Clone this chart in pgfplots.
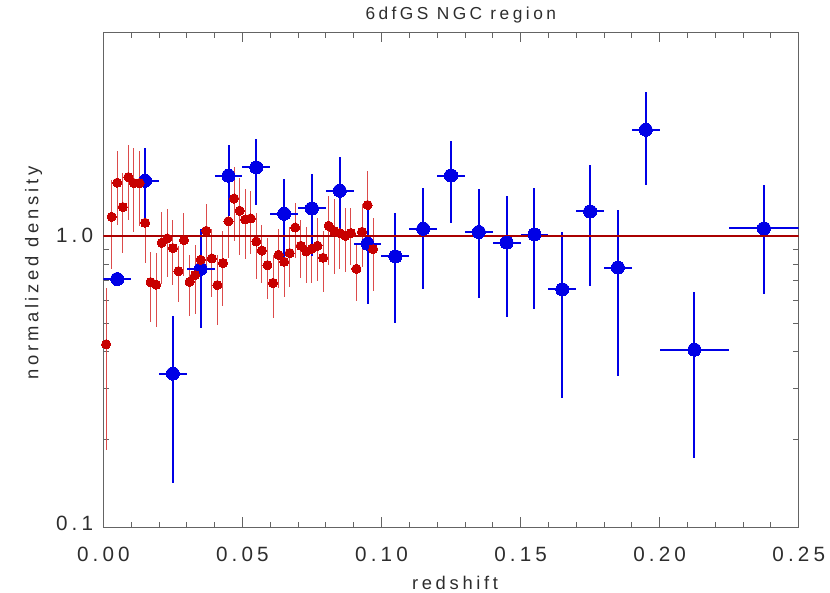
\documentclass[border=0pt]{standalone}
\usepackage{fontspec}
\setmainfont[LetterSpace=20]{Liberation Sans}
\usepackage{pgfplots}
\usepackage{pgfplotstable}
\pgfplotsset{compat=1.18}

\definecolor{ptblue}{RGB}{0,0,230}
\definecolor{ptred}{RGB}{200,0,0}
\definecolor{barred}{RGB}{220,75,75}
\definecolor{refline}{RGB}{170,0,0}
\definecolor{axgrey}{RGB}{100,100,100}
\definecolor{txtgrey}{RGB}{45,45,45}

% fine bins (red): x, density, error
\pgfplotstableread{
x y e
0.001 0.424 0.240
0.003 1.162 0.390
0.005 1.521 0.429
0.007 1.255 0.385
0.009 1.591 0.460
0.011 1.517 0.484
0.013 1.517 0.437
0.015 1.108 0.300
0.017 0.693 0.188
0.019 0.679 0.193
0.021 0.946 0.262
0.023 0.979 0.255
0.025 0.907 0.228
0.027 0.756 0.163
0.029 0.966 0.236
0.031 0.695 0.163
0.033 0.733 0.195
0.035 0.827 0.207
0.037 1.040 0.250
0.039 0.836 0.219
0.041 0.677 0.183
0.043 0.806 0.230
0.045 1.122 0.280
0.047 1.343 0.380
0.049 1.219 0.359
0.051 1.138 0.305
0.053 1.147 0.278
0.055 0.956 0.243
0.057 0.890 0.200
0.059 0.793 0.188
0.061 0.689 0.168
0.063 0.860 0.197
0.065 0.814 0.200
0.067 0.872 0.204
0.069 1.068 0.230
0.071 0.924 0.208
0.073 0.883 0.193
0.075 0.904 0.218
0.077 0.924 0.226
0.079 0.840 0.200
0.081 1.082 0.285
0.083 1.038 0.300
0.085 1.022 0.252
0.087 1.000 0.250
0.089 1.022 0.225
0.091 0.770 0.172
0.093 1.032 0.252
0.095 1.275 0.400
0.097 0.900 0.253
}\finetab

% coarse bins (blue): x, density, half width, error
\pgfplotstableread{
x y ex ey
0.005 0.710 0.005 0.030
0.015 1.545 0.005 0.460
0.025 0.336 0.005 0.194
0.035 0.770 0.005 0.289
0.045 1.608 0.005 0.436
0.055 1.717 0.005 0.440
0.065 1.190 0.005 0.375
0.075 1.241 0.005 0.392
0.085 1.428 0.005 0.436
0.095 0.939 0.005 0.355
0.105 0.849 0.005 0.348
0.115 1.057 0.005 0.400
0.125 1.611 0.005 0.507
0.135 1.030 0.005 0.418
0.145 0.948 0.005 0.423
0.155 1.010 0.005 0.449
0.165 0.654 0.005 0.377
0.175 1.212 0.005 0.540
0.185 0.778 0.005 0.447
0.195 2.313 0.005 0.815
0.2125 0.406 0.0125 0.233
0.2375 1.060 0.0125 0.431
}\coarsetab

\begin{document}
\begin{tikzpicture}
\begin{axis}[
  scale only axis, width=521.6pt, height=371pt,
  xmin=0, xmax=0.25, ymin=0.1, ymax=5, ymode=log,
  xtick={0,0.05,0.1,0.15,0.2,0.25},
  xticklabels={0.00,0.05,0.10,0.15,0.20,0.25},
  minor x tick num=4,
  ytick={0.1,1}, yticklabels={\raisebox{5.5pt}{0.1},1.0},
  tick align=inside, major tick length=7.5pt, minor tick length=4pt,
  axis line style={axgrey, line width=0.6pt},
  tick style={axgrey, line width=0.6pt},
  tick label style={font=\fontsize{15.5}{18}\selectfont, text=txtgrey, inner sep=0pt},
  xticklabel style={anchor=base, yshift=-26pt},
  yticklabel style={anchor=east, xshift=-7.5pt},
  xlabel={redshift}, ylabel={normalized\hspace{0.5em}density},
  label style={font=\fontsize{13.8}{16}\selectfont, text=txtgrey, inner sep=0pt},
  xlabel style={at={(axis description cs:0.5058,-0.1273)}, anchor=base},
  ylabel style={at={(axis description cs:-0.0935,0.5134)}, anchor=base},
  title={6dfGS NGC region},
  title style={font=\fontsize{13}{15}\selectfont, text=txtgrey, inner sep=0pt,
    at={(axis description cs:0.514,1.0105)}, anchor=base},
]
% fine bins with error bars
\addplot[only marks, mark=*, mark size=3.4pt, mark options={fill=ptred, draw=ptred, line width=0pt},
  error bars/.cd, y dir=both, y explicit, error mark=none,
  error bar style={draw=barred, line width=0.75pt}]
  table[x=x, y=y, y error=e] {\finetab};
% coarse bins with error bars
\addplot[only marks, mark=*, mark size=4.9pt, mark options={fill=ptblue, draw=ptblue, line width=0pt},
  error bars/.cd, x dir=both, x explicit, y dir=both, y explicit, error mark=none,
  error bar style={draw=ptblue, line width=1.5pt}]
  table[x=x, y=y, x error=ex, y error=ey] {\coarsetab};
% unit density
\addplot[refline, line width=1.2pt] coordinates {(0,1) (0.25,1)};
% markers on top
\addplot[only marks, mark=*, mark size=4.9pt, mark options={fill=ptblue, draw=ptblue, line width=0pt}]
  table[x=x, y=y] {\coarsetab};
\addplot[only marks, mark=*, mark size=3.4pt, mark options={fill=ptred, draw=ptred, line width=0pt}]
  table[x=x, y=y] {\finetab};
\coordinate (bbsw) at (rel axis cs:-0.1486,-0.1334);
\coordinate (bbne) at (rel axis cs:1.045,1.0653);
\end{axis}
\path (bbsw) rectangle (bbne);
\end{tikzpicture}
\end{document}
